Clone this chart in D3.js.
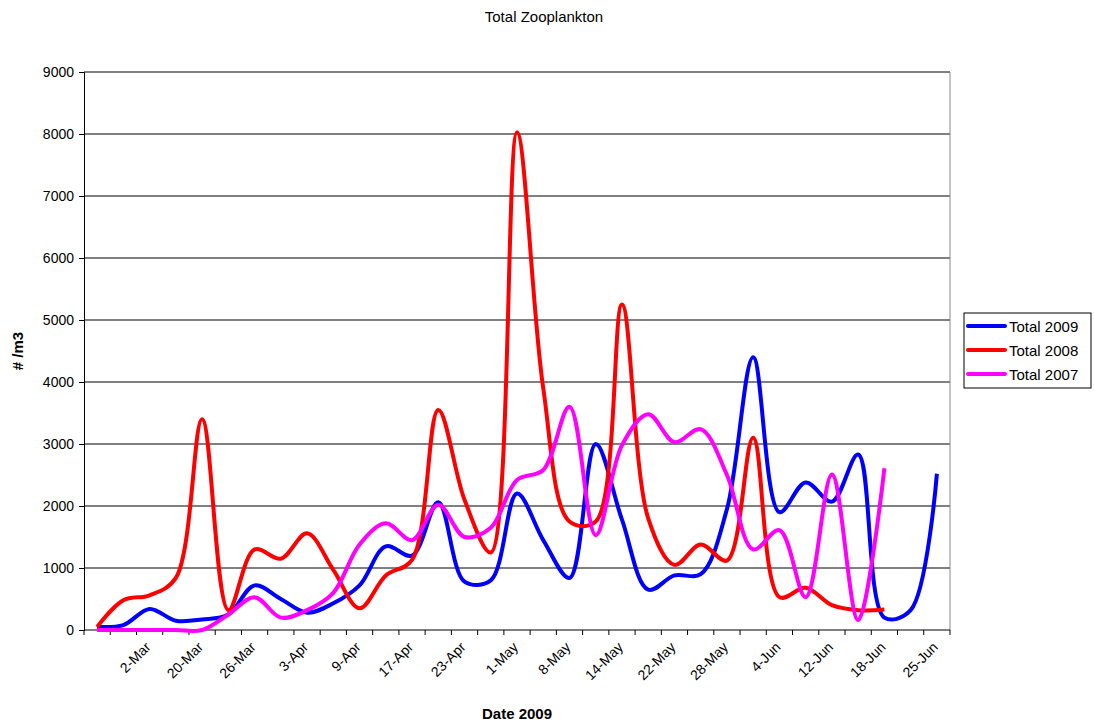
<!DOCTYPE html>
<html><head><meta charset="utf-8">
<script src="https://cdn.jsdelivr.net/npm/d3@7"></script>
<style>body{margin:0;background:#fff}text{font-family:Arial,"Liberation Sans",sans-serif}</style>
</head><body><svg id="c" width="1094" height="725"></svg>
<script>
const categories = ["","","2-Mar","","20-Mar","","26-Mar","","3-Apr","","9-Apr","","17-Apr","","23-Apr","","1-May","","8-May","","14-May","","22-May","","28-May","","4-Jun","","12-Jun","","18-Jun","","25-Jun"];
const total2009 = [50,80,340,150,170,250,720,500,280,430,720,1350,1200,2060,780,800,2200,1450,840,3000,1780,650,880,900,1950,4400,1900,2380,2070,2830,200,320,2520];
const total2008 = [50,480,560,840,3400,320,1300,1150,1560,970,350,880,1130,3550,2100,1250,8030,3900,1750,1750,5250,1800,1050,1380,1120,3100,530,680,400,320,330];
const total2007 = [0,0,0,0,0,250,530,200,320,600,1380,1720,1450,2020,1500,1650,2420,2580,3600,1530,2980,3480,3030,3240,2500,1300,1610,530,2510,160,2610];
const yTicks = [0,1000,2000,3000,4000,5000,6000,7000,8000,9000];
const series = [{name:"Total 2009",values:total2009,color:"#0000ff"},{name:"Total 2008",values:total2008,color:"#ff0000"},{name:"Total 2007",values:total2007,color:"#ff00ff"}];

const svg = d3.select("#c");
const L=84,R=950,T=72,B=630;
const x = d3.scaleBand().domain(d3.range(categories.length)).range([L,R]);
const y = d3.scaleLinear().domain([0,9000]).range([B,T]);

svg.append("text").attr("x",544).attr("y",22).attr("text-anchor","middle").style("font-size","15px").text("Total Zooplankton");
svg.append("g").selectAll("line").data(yTicks.slice(1)).join("line")
 .attr("x1",L).attr("x2",R).attr("y1",d=>y(d)).attr("y2",d=>y(d)).attr("stroke","#000").attr("stroke-width",1);
svg.append("line").attr("x1",R).attr("x2",R).attr("y1",T).attr("y2",B).attr("stroke","#888");
const ya = svg.append("g").attr("transform",`translate(${L},0)`).call(d3.axisLeft(y).tickValues(yTicks).tickSize(5).tickFormat(d3.format("d")));
ya.selectAll("text").style("font-size","14px").style("font-family","Arial, Liberation Sans").attr("dx","-2");
const xa = svg.append("g").attr("transform",`translate(0,${B})`);
xa.append("line").attr("x1",L).attr("x2",R).attr("stroke","#000");
xa.selectAll("line.t").data(d3.range(categories.length+1)).join("line").attr("class","t")
 .attr("x1",i=>L+i*x.step()).attr("x2",i=>L+i*x.step()).attr("y1",0).attr("y2",5).attr("stroke","#000");
xa.selectAll("text").data(categories.map((c,i)=>({c,i})).filter(d=>d.c)).join("text")
 .style("font-size","14px").attr("text-anchor","end")
 .attr("transform",d=>`translate(${x(d.i)+x.bandwidth()/2+2},${18}) rotate(-45)`).text(d=>d.c);
svg.selectAll(".domain").attr("stroke","#000");
const line = d3.line().x((d,i)=>x(i)+x.bandwidth()/2).y(d=>y(d)).curve(d3.curveCatmullRom.alpha(0.5));
svg.append("g").selectAll("path").data(series).join("path")
 .attr("d",d=>line(d.values)).attr("fill","none").attr("stroke",d=>d.color).attr("stroke-width",4).attr("stroke-linejoin","round");
svg.append("text").attr("x",517).attr("y",719).attr("text-anchor","middle").style("font-size","15px").attr("font-weight","bold").text("Date 2009");
svg.append("text").attr("transform","translate(23,351) rotate(-90)").attr("text-anchor","middle").style("font-size","15px").attr("font-weight","bold").text("# /m3");
const lg = svg.append("g");
lg.append("rect").attr("x",964).attr("y",313).attr("width",127).attr("height",75).attr("fill","#fff").attr("stroke","#000");
series.forEach((s,i)=>{
 const yy=326+i*24;
 lg.append("line").attr("x1",968).attr("x2",1005).attr("y1",yy).attr("y2",yy).attr("stroke",s.color).attr("stroke-width",4).attr("stroke-linecap","round");
 lg.append("text").attr("x",1009).attr("y",yy+5.5).style("font-size","15px").text(s.name);
});
</script></body></html>
